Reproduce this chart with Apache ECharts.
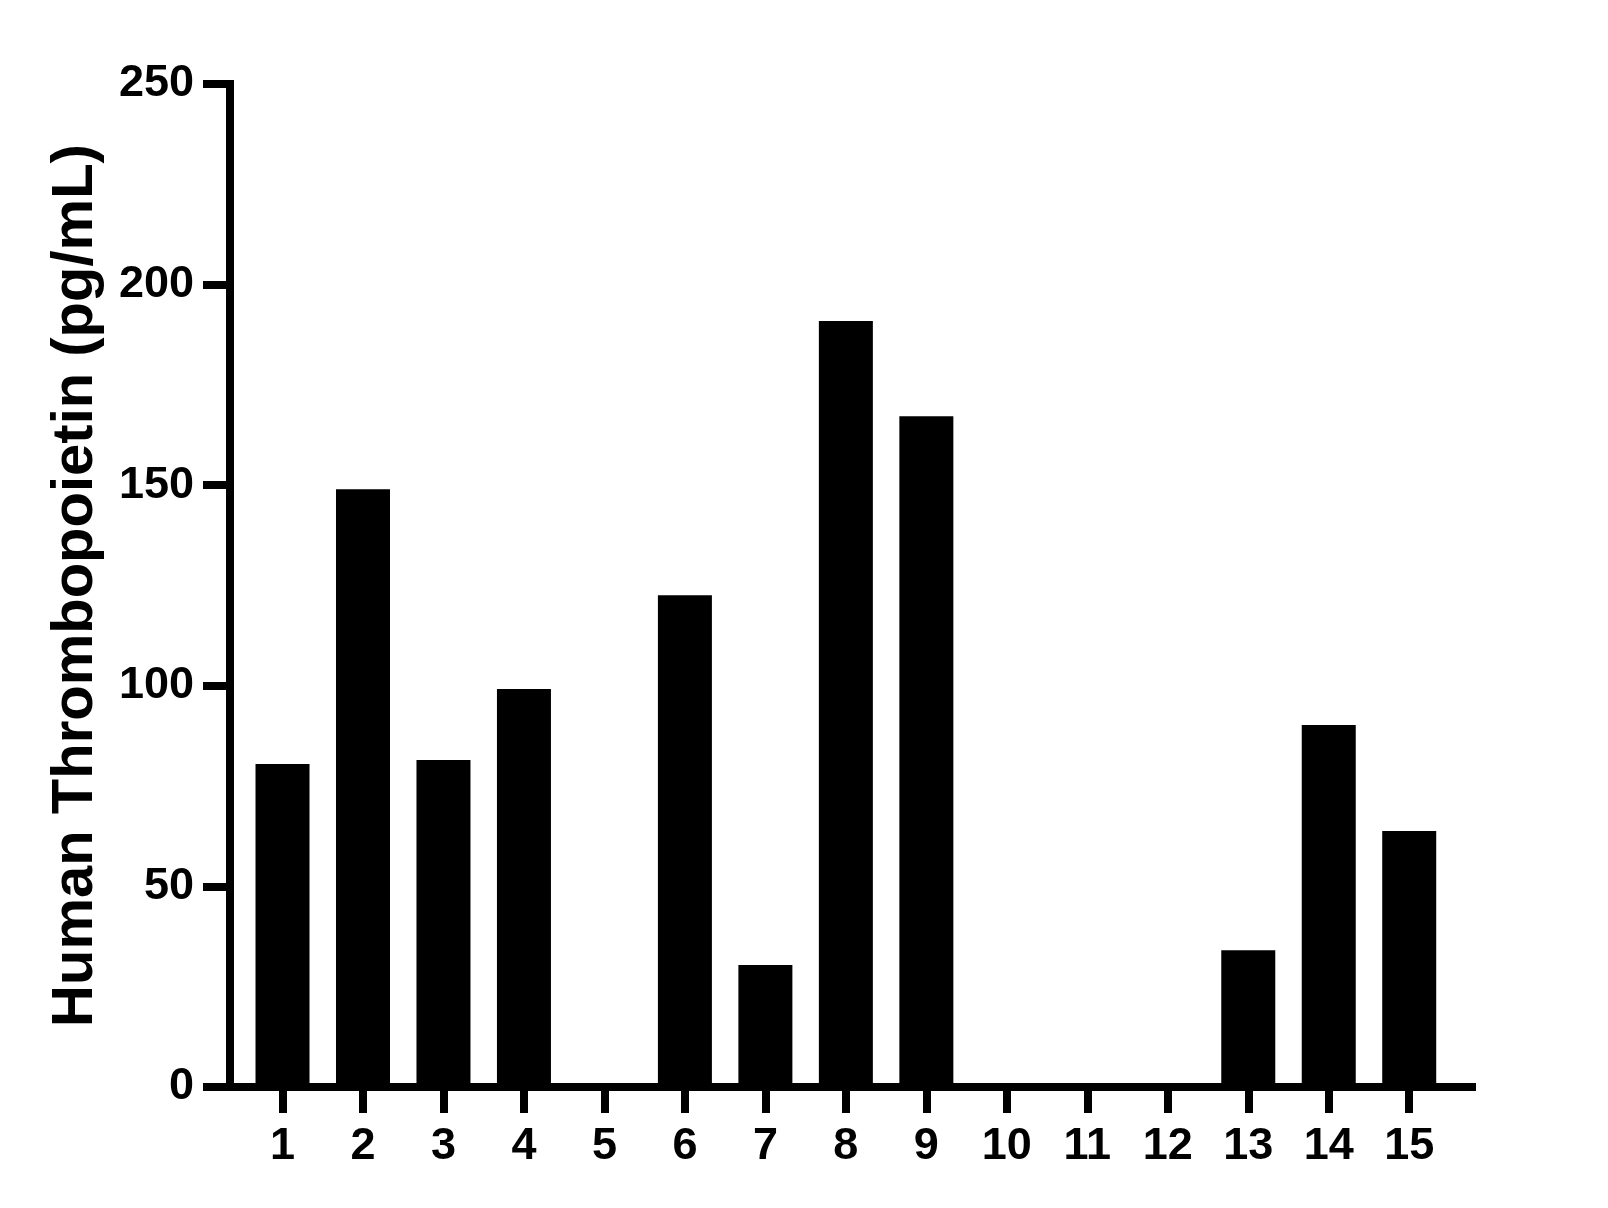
<!DOCTYPE html>
<html>
<head>
<meta charset="utf-8">
<script src="https://cdn.jsdelivr.net/npm/echarts@6/dist/echarts.min.js"></script>
<style>
  html, body { margin: 0; padding: 0; background: #fff; }
  #chart { width: 1608px; height: 1208px; }
</style>
</head>
<body>
<div id="chart"></div>
<script>
// sample numbers on the x axis
const samples = [1, 2, 3, 4, 5, 6, 7, 8, 9, 10, 11, 12, 13, 14, 15];
// Human Thrombopoietin (pg/mL) per sample
const tpoValues = [80.5, 149, 81.5, 99.2, 0, 122.6, 30.4, 190.9, 167.2, 0, 0, 0, 34.1, 90.2, 63.8];
// y axis ticks
const yTicks = [0, 50, 100, 150, 200, 250];

const font = '"Liberation Sans", Arial, sans-serif';

const chart = echarts.init(document.getElementById('chart'));
chart.setOption({
    animation: false,
    backgroundColor: '#fff',
    grid: { left: 230, right: 136, top: 84, bottom: 121 },
    xAxis: {
        type: 'value',
        min: 0.3475,
        max: 15.78,
        splitLine: { show: false },
        axisLine: { lineStyle: { color: '#000', width: 8, cap: 'square' } },
        axisTick: { customValues: samples, length: 26, lineStyle: { color: '#000', width: 8 } },
        axisLabel: {
            customValues: samples,
            margin: 37,
            color: '#000',
            fontSize: 45,
            fontWeight: 'bold',
            fontFamily: font
        }
    },
    yAxis: {
        type: 'value',
        min: yTicks[0],
        max: yTicks[yTicks.length - 1],
        interval: 50,
        name: 'Human Thrombopoietin (pg/mL)',
        nameLocation: 'middle',
        nameGap: 125,
        nameTextStyle: { color: '#000', fontSize: 58, fontWeight: 'bold', fontFamily: font },
        splitLine: { show: false },
        axisLine: { show: true, lineStyle: { color: '#000', width: 8, cap: 'square' } },
        axisTick: { show: true, length: 27, lineStyle: { color: '#000', width: 8 } },
        axisLabel: {
            margin: 36,
            color: '#000',
            fontSize: 45,
            fontWeight: 'bold',
            fontFamily: font
        }
    },
    series: [
        {
            type: 'bar',
            barWidth: 54,
            itemStyle: { color: '#000' },
            data: samples.map((s, i) => [s, tpoValues[i]])
        }
    ]
});
</script>
</body>
</html>
